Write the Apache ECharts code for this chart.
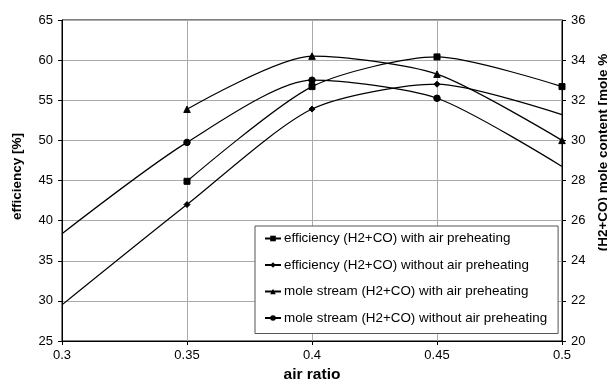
<!DOCTYPE html>
<html>
<head>
<meta charset="utf-8">
<script src="https://cdn.jsdelivr.net/npm/echarts@6/dist/echarts.min.js"></script>
<style>
  html, body { margin: 0; padding: 0; background: #fff; }
  #chart { width: 607px; height: 383px; }
</style>
</head>
<body>
<div id="chart"></div>
<script>
// air ratio on x, efficiency on the left axis, mole content on the right
const airRatio = [ 0.3, 0.35, 0.4, 0.45, 0.5 ];
const effWith = [ null, 44.9, 56.7, 60.4, 56.7 ];
const effWithout = [ 29.5, 42.0, 53.9, 57.0, 53.2 ];
const moleWith = [ null, 31.55, 34.2, 33.3, 30.0 ];
const moleWithout = [ 25.35, 29.9, 33.0, 32.1, 28.7 ];
// points drawn without a marker (curve ends only)
const noMarkWithout = [ 0.3, 0.5 ];
const seriesNames = [
  'efficiency (H2+CO) with air preheating',
  'efficiency (H2+CO) without air preheating',
  'mole stream (H2+CO) with air preheating',
  'mole stream (H2+CO) without air preheating'
];

( function ()
{
  let myChart = echarts.init( document.getElementById( 'chart' ) );
  const font = 'Liberation Sans, Arial, sans-serif';

  function pts ( values, hideAt )
  {
    let out = [];
    values.forEach( function ( v, i )
    {
      if ( v === null ) return;
      let item = { value: [ airRatio[ i ], v ] };
      if ( hideAt && hideAt.indexOf( airRatio[ i ] ) >= 0 ) item.symbol = 'none';
      out.push( item );
    } );
    return out;
  }

  function line ( name, symbol, size, data, axis )
  {
    return {
      name: name,
      type: 'line',
      yAxisIndex: axis,
      smooth: 0.25,
      symbol: symbol,
      symbolSize: size,
      showAllSymbol: true,
      lineStyle: { color: '#000', width: 1.2 },
      itemStyle: { color: '#000', borderColor: '#000' },
      emphasis: { disabled: true },
      z: 3,
      data: data
    };
  }

  let option = {
    animation: false,
    textStyle: { fontFamily: font },
    grid: {
      left: 62, right: 45, top: 20, bottom: 42,
      containLabel: false,
      outerBoundsMode: 'none',
      show: true, borderColor: '#000', borderWidth: 1
    },
    legend: {
      orient: 'vertical',
      left: 255, top: 226,
      padding: [ 6, 11, 9, 9 ],
      itemGap: 13.5,
      itemWidth: 16, itemHeight: 7,
      borderColor: '#555', borderWidth: 1,
      backgroundColor: '#fff',
      textStyle: { fontFamily: font, fontSize: 13.4, color: '#000', padding: [ 0, 0, 0, -2 ] },
      data: seriesNames
    },
    xAxis: {
      type: 'value',
      min: 0.3, max: 0.5, interval: 0.05,
      name: 'air ratio',
      nameLocation: 'middle',
      nameGap: 26,
      nameTextStyle: { fontFamily: font, fontSize: 15.5, fontWeight: 'bold', color: '#000' },
      axisLine: { lineStyle: { color: '#000' } },
      axisTick: { show: true, length: 4, lineStyle: { color: '#000' } },
      axisLabel: { fontFamily: font, fontSize: 13, color: '#000', margin: 8,
        formatter: function ( v ) { return String( +v.toFixed( 2 ) ); } },
      splitLine: { show: true, lineStyle: { color: '#aaa' } }
    },
    yAxis: [
      {
        type: 'value',
        min: 25, max: 65, interval: 5,
        name: 'efficiency [%]',
        nameLocation: 'middle',
        nameGap: 38,
        nameTextStyle: { fontFamily: font, fontSize: 13.5, fontWeight: 'bold', color: '#000',
          padding: [ 0, 0, 0, 8 ] },
        axisLine: { show: true, lineStyle: { color: '#000' } },
        axisTick: { show: true, length: 4, lineStyle: { color: '#000' } },
        axisLabel: { fontFamily: font, fontSize: 13, color: '#000', margin: 9 },
        splitLine: { show: true, lineStyle: { color: '#aaa' } }
      },
      {
        type: 'value',
        min: 20, max: 36, interval: 2,
        position: 'right',
        name: '(H2+CO) mole content [mole %',
        nameLocation: 'middle',
        nameGap: 32,
        nameRotate: 90,
        nameTextStyle: { fontFamily: font, fontSize: 13.5, fontWeight: 'bold', color: '#000',
          padding: [ 0, 0, 0, 56 ] },
        axisLine: { show: true, lineStyle: { color: '#000' } },
        axisTick: { show: true, length: 4, lineStyle: { color: '#000' } },
        axisLabel: { fontFamily: font, fontSize: 13, color: '#000', margin: 9 },
        splitLine: { show: false }
      }
    ],
    series: [
      line( seriesNames[ 0 ], 'rect', 6, pts( effWith ), 0 ),
      line( seriesNames[ 1 ], 'diamond', 6, pts( effWithout, noMarkWithout ), 0 ),
      line( seriesNames[ 2 ], 'triangle', 6.5, pts( moleWith ), 1 ),
      line( seriesNames[ 3 ], 'circle', 6.5, pts( moleWithout, noMarkWithout ), 1 )
    ]
  };
  myChart.setOption( option );
} )();
</script>
</body>
</html>
